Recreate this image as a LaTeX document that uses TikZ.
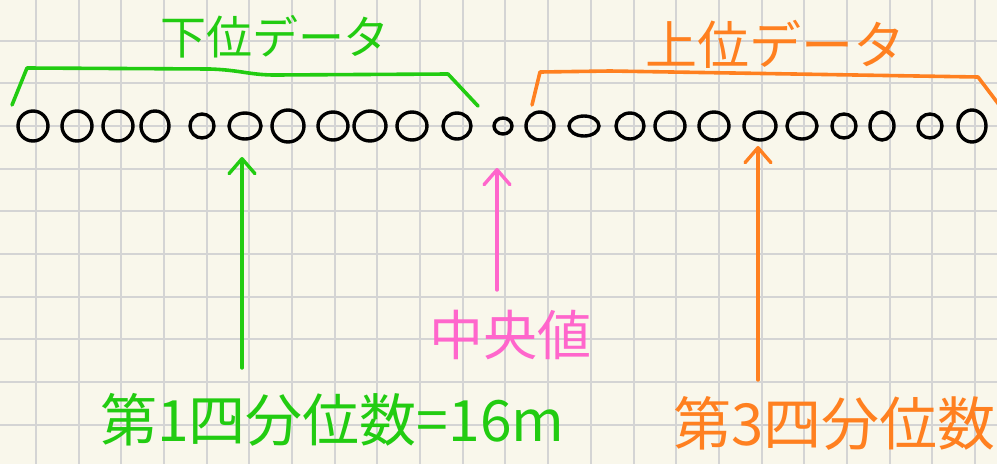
\documentclass[tikz,border=0pt]{standalone}
\usepackage{fontspec}
\setmainfont{Noto Sans CJK JP}
\usetikzlibrary{arrows.meta,shapes.geometric}
\definecolor{bgcol}{RGB}{249,247,235}
\definecolor{gridcol}{RGB}{212,212,212}
\definecolor{grn}{RGB}{34,204,17}
\definecolor{org}{RGB}{255,128,32}
\definecolor{pnk}{RGB}{255,102,204}
\tikzset{
  gridline/.style={draw=gridcol, line width=2pt},
  datadot/.style={ellipse, draw=black, line width=3.4pt, inner sep=0pt},
  bracketline/.style={line width=3.6pt, line cap=round, line join=round},
  ptarrow/.style={line width=3.4pt, line cap=round, line join=round,
    -{Straight Barb[length=15pt,width=26pt,line cap=round,line join=round]}},
  label/.style={inner sep=0pt},
}
\begin{document}
\begin{tikzpicture}[x=1pt,y=-1pt]
\useasboundingbox (0,0) rectangle (997,464);
\fill[bgcol] (0,0) rectangle (997,464);
\begin{scope}
\clip (0,0) rectangle (997,464);
\foreach \k in {0,...,22} \draw[gridline] ({36+42.68*\k},0) -- ({36+42.68*\k},464);
\foreach \k in {0,...,9} \draw[gridline] (0,{40.7+42.68*\k}) -- (997,{40.7+42.68*\k});

% data points
\foreach \i/\x/\rx/\ry in {1/33/15/15, 2/77/15/15, 3/118/15/15, 4/155/14/15, 5/202/12/12,
  6/245/16/13, 7/288/16/16, 8/333/15/14, 9/370/16/15, 10/412/15/14, 11/457/14/13,
  12/503/9/8, 13/540/14/14, 14/584/15/10, 15/630/14/13, 16/670/15/14, 17/714/15/14,
  18/760/16/14, 19/802/15/13, 20/844/12/12, 21/882/12/14, 22/930/12/12, 23/972/14/16}
  \node[datadot, minimum width={\rx*2pt}, minimum height={\ry*2pt}] (c\i) at (\x,126) {};

% brackets
\draw[bracketline, grn] (12,105) -- (27,68) -- (210,69) .. controls (240,70) and (250,75) .. (275,75) -- (448,74) -- (478,106);
\draw[bracketline, org] (532,105) -- (540,72) -- (610,71) -- (978,77) -- (1003,110);

% labels
\node[label, grn, font=\fontsize{46}{46}\selectfont] (lower) at (275,37) {下位データ};
\node[label, org, font=\fontsize{52}{52}\selectfont] (upper) at (775,44) {上位データ};
\node[label, pnk, font=\fontsize{54}{54}\selectfont] (med) at (510,335) {中央値};
\node[label, grn, anchor=west, font=\fontsize{57}{57}\selectfont] (q1) at (100,420) {第1四分位数=16m};
\node[label, org, anchor=east, font=\fontsize{58}{58}\selectfont] (q3) at (996,423) {第3四分位数};

% arrows
\coordinate (q1base) at (242,368);
\coordinate (q1tip) at (242,157);
\coordinate (medbase) at (497,290);
\coordinate (medtip) at (497,168);
\coordinate (q3base) at (758,380);
\coordinate (q3tip) at (758,146);
\draw[ptarrow, grn] (q1base) -- (q1tip);
\draw[ptarrow, pnk] (medbase) -- (medtip);
\draw[ptarrow, org] (q3base) -- (q3tip);
\end{scope}
\end{tikzpicture}
\end{document}
